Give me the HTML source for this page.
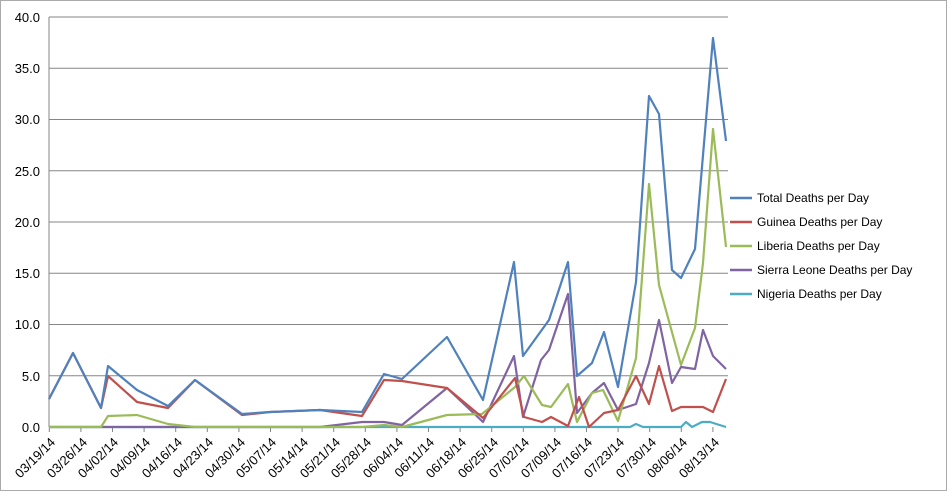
<!DOCTYPE html>
<html><head><style>
body{margin:0;background:#fff;}
svg text{font-family:"Liberation Sans",sans-serif;}
</style></head><body>
<svg width="948" height="493" viewBox="0 0 948 493" xmlns="http://www.w3.org/2000/svg">
<rect x="0.5" y="0.5" width="946" height="490" fill="#fff" stroke="#aaa"/>
<g stroke="#868686" stroke-width="1">
<line x1="49" y1="17" x2="728" y2="17"/>
<line x1="49" y1="68.25" x2="728" y2="68.25"/>
<line x1="49" y1="119.5" x2="728" y2="119.5"/>
<line x1="49" y1="170.75" x2="728" y2="170.75"/>
<line x1="49" y1="222" x2="728" y2="222"/>
<line x1="49" y1="273.25" x2="728" y2="273.25"/>
<line x1="49" y1="324.5" x2="728" y2="324.5"/>
<line x1="49" y1="375.75" x2="728" y2="375.75"/>
<line x1="49" y1="17" x2="49" y2="427"/>
</g>
<g stroke="#868686">
<line x1="49.3" y1="427" x2="49.3" y2="432"/><line x1="80.9" y1="427" x2="80.9" y2="432"/><line x1="112.5" y1="427" x2="112.5" y2="432"/><line x1="144.1" y1="427" x2="144.1" y2="432"/><line x1="175.7" y1="427" x2="175.7" y2="432"/><line x1="207.3" y1="427" x2="207.3" y2="432"/><line x1="238.9" y1="427" x2="238.9" y2="432"/><line x1="270.5" y1="427" x2="270.5" y2="432"/><line x1="302.1" y1="427" x2="302.1" y2="432"/><line x1="333.7" y1="427" x2="333.7" y2="432"/><line x1="365.3" y1="427" x2="365.3" y2="432"/><line x1="396.9" y1="427" x2="396.9" y2="432"/><line x1="428.5" y1="427" x2="428.5" y2="432"/><line x1="460.1" y1="427" x2="460.1" y2="432"/><line x1="491.7" y1="427" x2="491.7" y2="432"/><line x1="523.3" y1="427" x2="523.3" y2="432"/><line x1="554.9" y1="427" x2="554.9" y2="432"/><line x1="586.5" y1="427" x2="586.5" y2="432"/><line x1="618.1" y1="427" x2="618.1" y2="432"/><line x1="649.7" y1="427" x2="649.7" y2="432"/><line x1="681.3" y1="427" x2="681.3" y2="432"/><line x1="712.9" y1="427" x2="712.9" y2="432"/>
</g>
<g font-size="13" fill="#000" text-anchor="end">
<text x="40" y="22">40.0</text><text x="40" y="73">35.0</text><text x="40" y="124">30.0</text><text x="40" y="176">25.0</text><text x="40" y="227">20.0</text><text x="40" y="278">15.0</text><text x="40" y="329">10.0</text><text x="40" y="381">5.0</text><text x="40" y="432">0.0</text>
</g>
<g font-size="13" fill="#000" text-anchor="end">
<text transform="translate(56,443) rotate(-45)">03/19/14</text>
<text transform="translate(88,443) rotate(-45)">03/26/14</text>
<text transform="translate(119,443) rotate(-45)">04/02/14</text>
<text transform="translate(151,443) rotate(-45)">04/09/14</text>
<text transform="translate(183,443) rotate(-45)">04/16/14</text>
<text transform="translate(214,443) rotate(-45)">04/23/14</text>
<text transform="translate(246,443) rotate(-45)">04/30/14</text>
<text transform="translate(277,443) rotate(-45)">05/07/14</text>
<text transform="translate(309,443) rotate(-45)">05/14/14</text>
<text transform="translate(341,443) rotate(-45)">05/21/14</text>
<text transform="translate(372,443) rotate(-45)">05/28/14</text>
<text transform="translate(404,443) rotate(-45)">06/04/14</text>
<text transform="translate(435,443) rotate(-45)">06/11/14</text>
<text transform="translate(467,443) rotate(-45)">06/18/14</text>
<text transform="translate(499,443) rotate(-45)">06/25/14</text>
<text transform="translate(530,443) rotate(-45)">07/02/14</text>
<text transform="translate(562,443) rotate(-45)">07/09/14</text>
<text transform="translate(593,443) rotate(-45)">07/16/14</text>
<text transform="translate(625,443) rotate(-45)">07/23/14</text>
<text transform="translate(657,443) rotate(-45)">07/30/14</text>
<text transform="translate(688,443) rotate(-45)">08/06/14</text>
<text transform="translate(720,443) rotate(-45)">08/13/14</text>
</g>
<g fill="none" stroke-width="2.2" stroke-linejoin="round">
<polyline stroke="#4bacc6" points="49,427 630,427 636,424 643,427 681,427 686,422 692,427 702,422 710,422 726,427"/>
<polyline stroke="#8064a2" points="49,427 320,427 362,422 384,422 402,425 447,388 483,422 514,356 523,417 541,360 549,350 568,294 577,413 592,393 604,383 618,410 636,404 649,363 659,320 672,383 681,367 695,369 703,330 713,356 726,369"/>
<polyline stroke="#9bbb59" points="49,427 101,427 108,416 137,415 168,424 195,427 362,427 384,425 402,427 447,415 482,414 515,387 524,376 542,405 551,407 568,384 577,422 592,393 603,390 618,421 636,358 649,184 659,285 681,365 695,328 703,263 713,129 726,247"/>
<polyline stroke="#c0504d" points="49,399 73,353 101,408 108,376 137,402 168,408 195,380 242,415 270,412 320,410 362,416 384,380 402,381 447,388 483,418 515,378 524,417 542,422 551,417 568,426 579,397 589,427 604,413 618,410 636,376 649,404 659,366 672,411 681,407 703,407 713,412 726,379"/>
<polyline stroke="#4f81bd" points="49,399 73,353 101,408 108,366 137,390 168,406 195,380 242,414 270,412 320,410 362,412 384,374 402,379 447,337 483,400 514,262 523,356 549,320 568,262 577,376 592,363 604,332 618,387 636,282 649,96 659,114 672,270 681,278 695,249 713,38 726,141"/>
</g>
<g stroke-width="2.5">
<line x1="730" y1="198" x2="752" y2="198" stroke="#4f81bd"/>
<line x1="730" y1="222" x2="752" y2="222" stroke="#c0504d"/>
<line x1="730" y1="246" x2="752" y2="246" stroke="#9bbb59"/>
<line x1="730" y1="270" x2="752" y2="270" stroke="#8064a2"/>
<line x1="730" y1="294" x2="752" y2="294" stroke="#4bacc6"/>
</g>
<g font-size="12" fill="#000">
<text x="757" y="202">Total Deaths per Day</text>
<text x="757" y="226">Guinea Deaths per Day</text>
<text x="757" y="250">Liberia Deaths per Day</text>
<text x="757" y="274">Sierra Leone Deaths per Day</text>
<text x="757" y="298">Nigeria Deaths per Day</text>
</g>
</svg>
</body></html>
